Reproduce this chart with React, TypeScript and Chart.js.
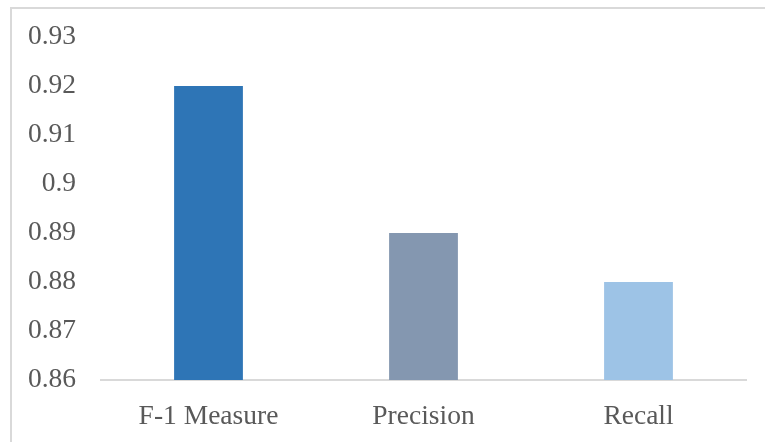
import React, { useEffect, useRef } from "react";
import { Chart, registerables } from "chart.js";

Chart.register(...registerables);

const categories = ["F-1 Measure", "Precision", "Recall"];
const values = [0.92, 0.89, 0.88];
const barColors = ["#2E75B6", "#8497B0", "#9DC3E6"];
const yMin = 0.86;
const yMax = 0.93;
const yStep = 0.01;

export default function App() {
  const ref = useRef<HTMLCanvasElement | null>(null);

  useEffect(() => {
    if (!ref.current) return;
    const font = { family: "'Liberation Serif', 'Times New Roman', serif", size: 27.5 };
    const frame = {
      id: "frame",
      beforeDraw: (c: any) => {
        const ctx = c.ctx;
        ctx.save();
        ctx.fillStyle = "#ffffff";
        ctx.fillRect(0, 0, c.width, c.height);
        ctx.strokeStyle = "#D9D9D9";
        ctx.lineWidth = 2;
        ctx.beginPath();
        ctx.moveTo(11, c.height);
        ctx.lineTo(11, 8);
        ctx.lineTo(c.width, 8);
        ctx.stroke();
        ctx.restore();
      },
    };
    const chart = new Chart(ref.current, {
      type: "bar",
      data: {
        labels: categories,
        datasets: [
          {
            data: values,
            backgroundColor: barColors,
            borderWidth: 0,
            categoryPercentage: 1,
            barPercentage: 0.32,
          },
        ],
      },
      options: {
        responsive: false,
        animation: false,
        devicePixelRatio: 1,
        layout: { padding: { top: 37, right: 19, bottom: 0, left: 0 } },
        plugins: { legend: { display: false }, tooltip: { enabled: false } },
        scales: {
          x: {
            grid: { display: false, drawTicks: false },
            border: { display: true, color: "#D9D9D9", width: 2 },
            ticks: { color: "#595959", font, padding: 20, maxRotation: 0 },
            afterFit: (s: any) => {
              s.height = 62;
              s.paddingLeft = 0;
              s.paddingRight = 0;
            },
          },
          y: {
            min: yMin,
            max: yMax,
            grid: { display: false, drawTicks: false },
            border: { display: false },
            ticks: {
              stepSize: yStep,
              color: "#595959",
              font,
              padding: 25,
              callback: (v: any) => String(+Number(v).toFixed(2)),
            },
            afterFit: (s: any) => {
              s.width = 101;
              s.paddingTop = 0;
              s.paddingBottom = 0;
            },
          },
        },
      },
      plugins: [frame],
    });
    return () => chart.destroy();
  }, []);

  return (
    <div style={{ position: "fixed", left: 0, top: 0, width: 765, height: 442, background: "#fff", overflow: "hidden" }}>
      <canvas ref={ref} width={765} height={442} style={{ position: "absolute", left: 0, top: 0 }} />
    </div>
  );
}
